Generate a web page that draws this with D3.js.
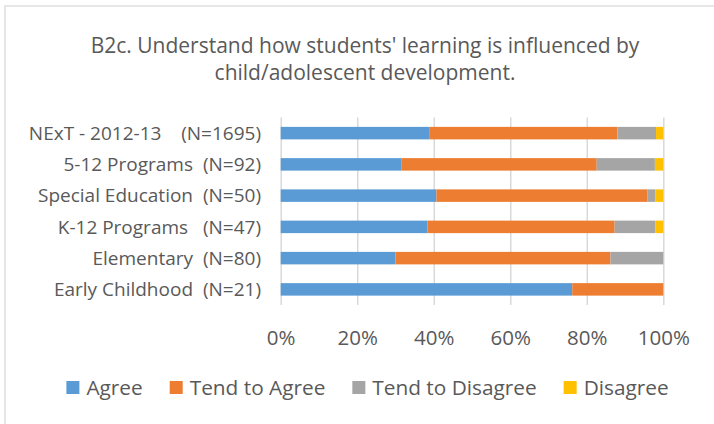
<!DOCTYPE html>
<html>
<head>
<meta charset="utf-8">
<script src="https://cdn.jsdelivr.net/npm/d3@7"></script>
<style>
  html, body { margin: 0; padding: 0; background: #fff; }
  svg text { font-family: "Open Sans", "Noto Sans", sans-serif; fill: #595959; white-space: pre; }
</style>
</head>
<body>
<div id="chart"></div>
<script>
// B2c stacked 100% bar chart

const categories = [
    'NExT - 2012-13    (N=1695)',
    '5-12 Programs  (N=92)',
    'Special Education  (N=50)',
    'K-12 Programs   (N=47)',
    'Elementary  (N=80)',
    'Early Childhood  (N=21)'
];
const seriesNames = ['Agree', 'Tend to Agree', 'Tend to Disagree', 'Disagree'];
const agree = [38.8, 31.5, 40.7, 38.3, 30.0, 76.2];
const tendAgree = [49.2, 51.1, 55.2, 48.9, 56.2, 23.8];
const tendDisagree = [10.1, 15.2, 2.0, 10.6, 13.8, 0];
const disagree = [1.9, 2.2, 2.1, 2.1, 0, 0];
const tickValues = [0, 0.2, 0.4, 0.6, 0.8, 1];
const titleLines = ["B2c. Understand how students' learning is influenced by", 'child/adolescent development.'];

const COLORS = ['#5B9BD5', '#ED7D31', '#A5A5A5', '#FFC000'];

const width = 714, height = 424;
const svg = d3.select('#chart').append('svg')
    .attr('width', width)
    .attr('height', height);

svg.append('rect').attr('width', width).attr('height', height).attr('fill', '#fff');
// chart frame (only top/left edges show)
svg.append('rect')
    .attr('x', 5).attr('y', 6)
    .attr('width', 730).attr('height', 440)
    .attr('fill', 'none')
    .attr('stroke', '#d9d9d9')
    .attr('stroke-width', 1.3);

svg.append('text')
    .attr('text-anchor', 'middle')
    .style('font-size', '21px')
    .selectAll('tspan')
    .data(titleLines)
    .enter()
    .append('tspan')
    .attr('x', 365)
    .attr('y', (d, i) => 53 + i * 27)
    .text(d => d);

const rows = categories.map((c, i) => ({
    cat: c,
    Agree: agree[i],
    'Tend to Agree': tendAgree[i],
    'Tend to Disagree': tendDisagree[i],
    Disagree: disagree[i]
}));

const x = d3.scaleLinear().domain([0, 1]).range([280.7, 663.3]);
const y = d3.scaleBand().domain(categories).range([117.5, 305]).paddingInner(0.6).paddingOuter(0.3);

// gridlines
svg.append('g')
    .attr('transform', 'translate(0,305)')
    .call(d3.axisBottom(x).tickValues(tickValues).tickSize(-187.5).tickFormat(''))
    .call(g => g.select('.domain').remove())
    .call(g => g.selectAll('line').attr('stroke', '#d9d9d9').attr('stroke-width', 1.5));

const stack = d3.stack().keys(seriesNames).offset(d3.stackOffsetExpand);
const layers = stack(rows);

svg.append('g')
    .selectAll('g')
    .data(layers)
    .enter()
    .append('g')
    .attr('fill', (d, i) => COLORS[i])
    .selectAll('rect')
    .data(d => d)
    .enter()
    .append('rect')
    .attr('x', d => x(d[0]))
    .attr('y', d => y(d.data.cat))
    .attr('width', d => Math.max(0, x(d[1]) - x(d[0])))
    .attr('height', y.bandwidth());

// category labels
svg.append('g')
    .attr('transform', 'translate(261,0)')
    .call(d3.axisLeft(y).tickSize(0).tickPadding(0))
    .call(g => g.select('.domain').remove())
    .call(g => g.selectAll('text')
        .style('font-size', '19px')
        .style('font-family', '"Open Sans", sans-serif')
        .attr('fill', '#595959')
        .attr('dy', '0.36em'));

// percent tick labels
svg.append('g')
    .attr('transform', 'translate(0,345)')
    .call(d3.axisBottom(x).tickValues(tickValues).tickSize(0).tickPadding(0).tickFormat(d3.format('.0%')))
    .call(g => g.select('.domain').remove())
    .call(g => g.selectAll('text')
        .style('font-size', '20.5px')
        .style('font-family', '"Open Sans", sans-serif')
        .attr('fill', '#595959')
        .attr('y', 0)
        .attr('dy', 0));

// legend
const legend = svg.append('g').attr('class', 'legend');
const items = legend.selectAll('g').data(seriesNames).enter().append('g');
items.append('rect')
    .attr('width', 13).attr('height', 13)
    .attr('y', -14)
    .attr('fill', (d, i) => COLORS[i]);
items.append('text')
    .attr('x', 20)
    .attr('y', 0)
    .style('font-size', '20.8px')
    .text(d => d);

let offset = 0;
items.each(function () {
    const g = d3.select(this);
    g.attr('transform', `translate(${offset},0)`);
    const w = 20 + g.select('text').node().getComputedTextLength();
    offset += w + 27;
});
const legendWidth = offset - 27;
legend.attr('transform', `translate(${367.5 - legendWidth / 2},395)`);
</script>
</body>
</html>
